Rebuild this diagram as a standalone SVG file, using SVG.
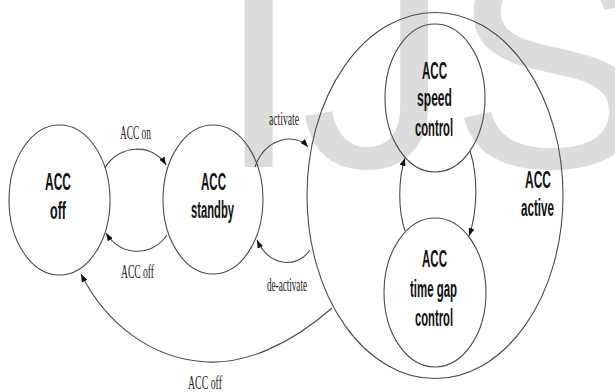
<svg xmlns="http://www.w3.org/2000/svg" width="615" height="392" viewBox="0 0 615 392">
<style>
.node{fill:none;stroke:#4a4a4a;stroke-width:1.1}
.edge{fill:none;stroke:#4a4a4a;stroke-width:1.1}
.lbl{font-family:"Liberation Sans",Arial,sans-serif;font-weight:bold;font-size:23px;fill:#111;text-anchor:middle}
.elbl{font-family:"Liberation Serif","Times New Roman",serif;font-size:18px;fill:#222;text-anchor:middle}
.wm{font-family:"Liberation Sans",Arial,sans-serif;font-size:300px;fill:#dcdcdc}
</style>
<defs>
<marker id="arr" markerUnits="userSpaceOnUse" markerWidth="8" markerHeight="6" refX="8" refY="3" orient="auto">
<path d="M0,0 L8,3 L0,6 z" fill="#111"/>
</marker>
</defs>
<rect width="615" height="392" fill="#fff"/>
<text class="wm" x="217" y="167">IJS</text>
<g id="connectors">
<path class="edge" d="M105,168 C118,145 152,142 166,165" marker-end="url(#arr)"/>
<path class="edge" d="M167,235 C152,256 122,258 106,233" marker-end="url(#arr)"/>
<path class="edge" d="M255,167 C265,138 295,132 308,147" marker-end="url(#arr)"/>
<path class="edge" d="M310,250 C298,268 270,268 257,240" marker-end="url(#arr)"/>
<path class="edge" d="M332,308 C290,345 245,364 207,362 C150,359 105,322 81,274" marker-end="url(#arr)"/>
<path class="edge" d="M405,231 C398,210 398,180 405,158" marker-end="url(#arr)"/>
<path class="edge" d="M470,151 C478,175 478,210 469,236" marker-end="url(#arr)"/>
<text class="elbl" x="135.5" y="139" textLength="31" lengthAdjust="spacingAndGlyphs">ACC on</text>
<text class="elbl" x="137.5" y="278" textLength="33" lengthAdjust="spacingAndGlyphs">ACC off</text>
<text class="elbl" x="284" y="125" textLength="30" lengthAdjust="spacingAndGlyphs">activate</text>
<text class="elbl" x="287" y="291" textLength="40" lengthAdjust="spacingAndGlyphs">de-activate</text>
<text class="elbl" x="205" y="389" textLength="34" lengthAdjust="spacingAndGlyphs">ACC off</text>
</g>
<g id="acc-off">
<ellipse class="node" cx="59.5" cy="200" rx="50.5" ry="75"/>
<text class="lbl" x="58" y="190" textLength="26" lengthAdjust="spacingAndGlyphs">ACC</text>
<text class="lbl" x="58" y="219" textLength="16" lengthAdjust="spacingAndGlyphs">off</text>
</g>
<g id="acc-standby">
<ellipse class="node" cx="213" cy="199.5" rx="50" ry="74.5"/>
<text class="lbl" x="213.5" y="190" textLength="25" lengthAdjust="spacingAndGlyphs">ACC</text>
<text class="lbl" x="212.5" y="218" textLength="43" lengthAdjust="spacingAndGlyphs">standby</text>
</g>
<g id="acc-active">
<ellipse class="node" cx="435" cy="195.5" rx="128" ry="183"/>
<text class="lbl" x="538" y="188" textLength="26" lengthAdjust="spacingAndGlyphs">ACC</text>
<text class="lbl" x="537.5" y="216" textLength="33" lengthAdjust="spacingAndGlyphs">active</text>
</g>
<g id="acc-speed-control">
<ellipse class="node" cx="435" cy="98" rx="50" ry="74"/>
<text class="lbl" x="434.5" y="79" textLength="25" lengthAdjust="spacingAndGlyphs">ACC</text>
<text class="lbl" x="434.5" y="106" textLength="35" lengthAdjust="spacingAndGlyphs">speed</text>
<text class="lbl" x="434" y="136" textLength="38" lengthAdjust="spacingAndGlyphs">control</text>
</g>
<g id="acc-time-gap-control">
<ellipse class="node" cx="435" cy="292.5" rx="51" ry="74.5"/>
<text class="lbl" x="434.5" y="267" textLength="25" lengthAdjust="spacingAndGlyphs">ACC</text>
<text class="lbl" x="433.5" y="297" textLength="47" lengthAdjust="spacingAndGlyphs">time gap</text>
<text class="lbl" x="434" y="326" textLength="38" lengthAdjust="spacingAndGlyphs">control</text>
</g>
</svg>
